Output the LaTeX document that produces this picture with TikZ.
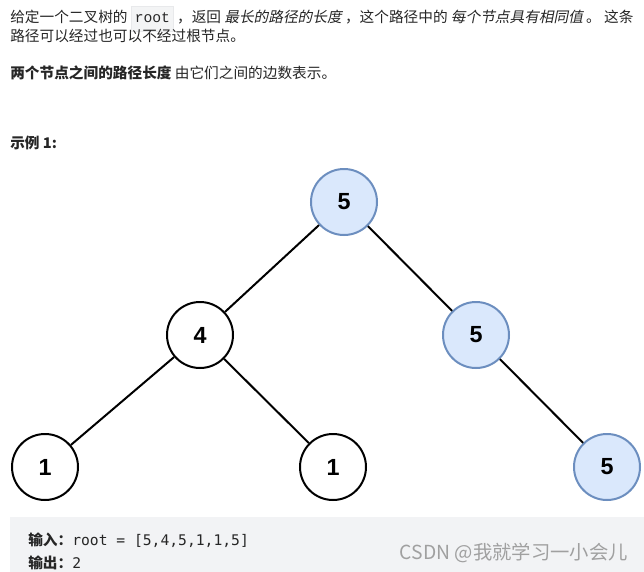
\documentclass[tikz,border=0pt]{standalone}
\usepackage{fontspec}
\setmainfont{Noto Sans CJK SC}[AutoFakeSlant=0.2]
\newfontfamily\codefont{Liberation Mono}
\newfontfamily\consfont{DejaVu Sans Mono}
\newfontfamily\numfont{Liberation Sans}
\usepackage{tikz}
\usetikzlibrary{positioning}
\usepackage{xcolor}
\definecolor{textgray}{RGB}{38,38,38}
\definecolor{codebg}{RGB}{243,244,245}
\definecolor{codeline}{RGB}{232,233,235}
\definecolor{samplebg}{RGB}{242,243,245}
\definecolor{nodefill}{RGB}{218,232,252}
\definecolor{nodeline}{RGB}{108,142,191}
\definecolor{markgray}{RGB}{160,160,160}
\newcommand{\inlinecode}[1]{{\setlength{\fboxsep}{2.5pt}\fcolorbox{codeline}{codebg}{\codefont\strut #1}}}

\begin{document}
\begin{tikzpicture}[x=0.75pt,y=-0.75pt,
    para/.style={anchor=base west,inner sep=0pt,text=textgray,font=\fontsize{11pt}{13pt}\selectfont},
    treenode/.style={circle,draw=black,line width=1.5pt,fill=white,minimum size=49.5pt,inner sep=0pt,
      font=\numfont\bfseries\fontsize{17.5pt}{17.5pt}\selectfont},
    samenode/.style={treenode,draw=nodeline,fill=nodefill},
    branch/.style={line width=1.5pt,black}]
    \useasboundingbox (0,0) rectangle (644,572);
    \fill[white] (0,0) rectangle (644,572);
    % Texto del enunciado
    \node[para] (line1) at (10,22) {给定一个二叉树的 \inlinecode{root} ，返回 \textit{最长的路径的长度} ，这个路径中的 \textit{每个节点具有相同值} 。 这条};
    \node[para] (line2) at (10,41) {路径可以经过也可以不经过根节点。};
    \node[para] (line3) at (10,78) {\textbf{两个节点之间的路径长度} 由它们之间的边数表示。};
    \node[para] (title) at (10,148) {\textbf{示例 1:}};
    % Arbol
    \node[samenode] (root) at (344,202) {5};
    \node[treenode] (four) at (200,335) {4};
    \node[samenode] (rfive) at (476,335) {5};
    \node[treenode] (lone) at (45,467) {1};
    \node[treenode] (mone) at (333,467) {1};
    \node[samenode] (rrfive) at (607,467) {5};
    \draw[branch] (root) -- (four);
    \draw[branch] (root) -- (rfive);
    \draw[branch] (four) -- (lone);
    \draw[branch] (four) -- (mone);
    \draw[branch] (rfive) -- (rrfive);
    % Ejemplo
    \fill[samplebg] (10,517) rectangle (644,572);
    \node[para] (input) at (28,545) {\textbf{输入：}{\consfont root = [5,4,5,1,1,5]}};
    \node[para] (output) at (28,568) {\textbf{输出：}{\consfont 2}};
    \node[anchor=east,inner sep=0pt,text=markgray,font=\fontsize{14.5pt}{16pt}\selectfont] (mark) at (628,553) {CSDN @我就学习一小会儿};
\end{tikzpicture}
\end{document}
